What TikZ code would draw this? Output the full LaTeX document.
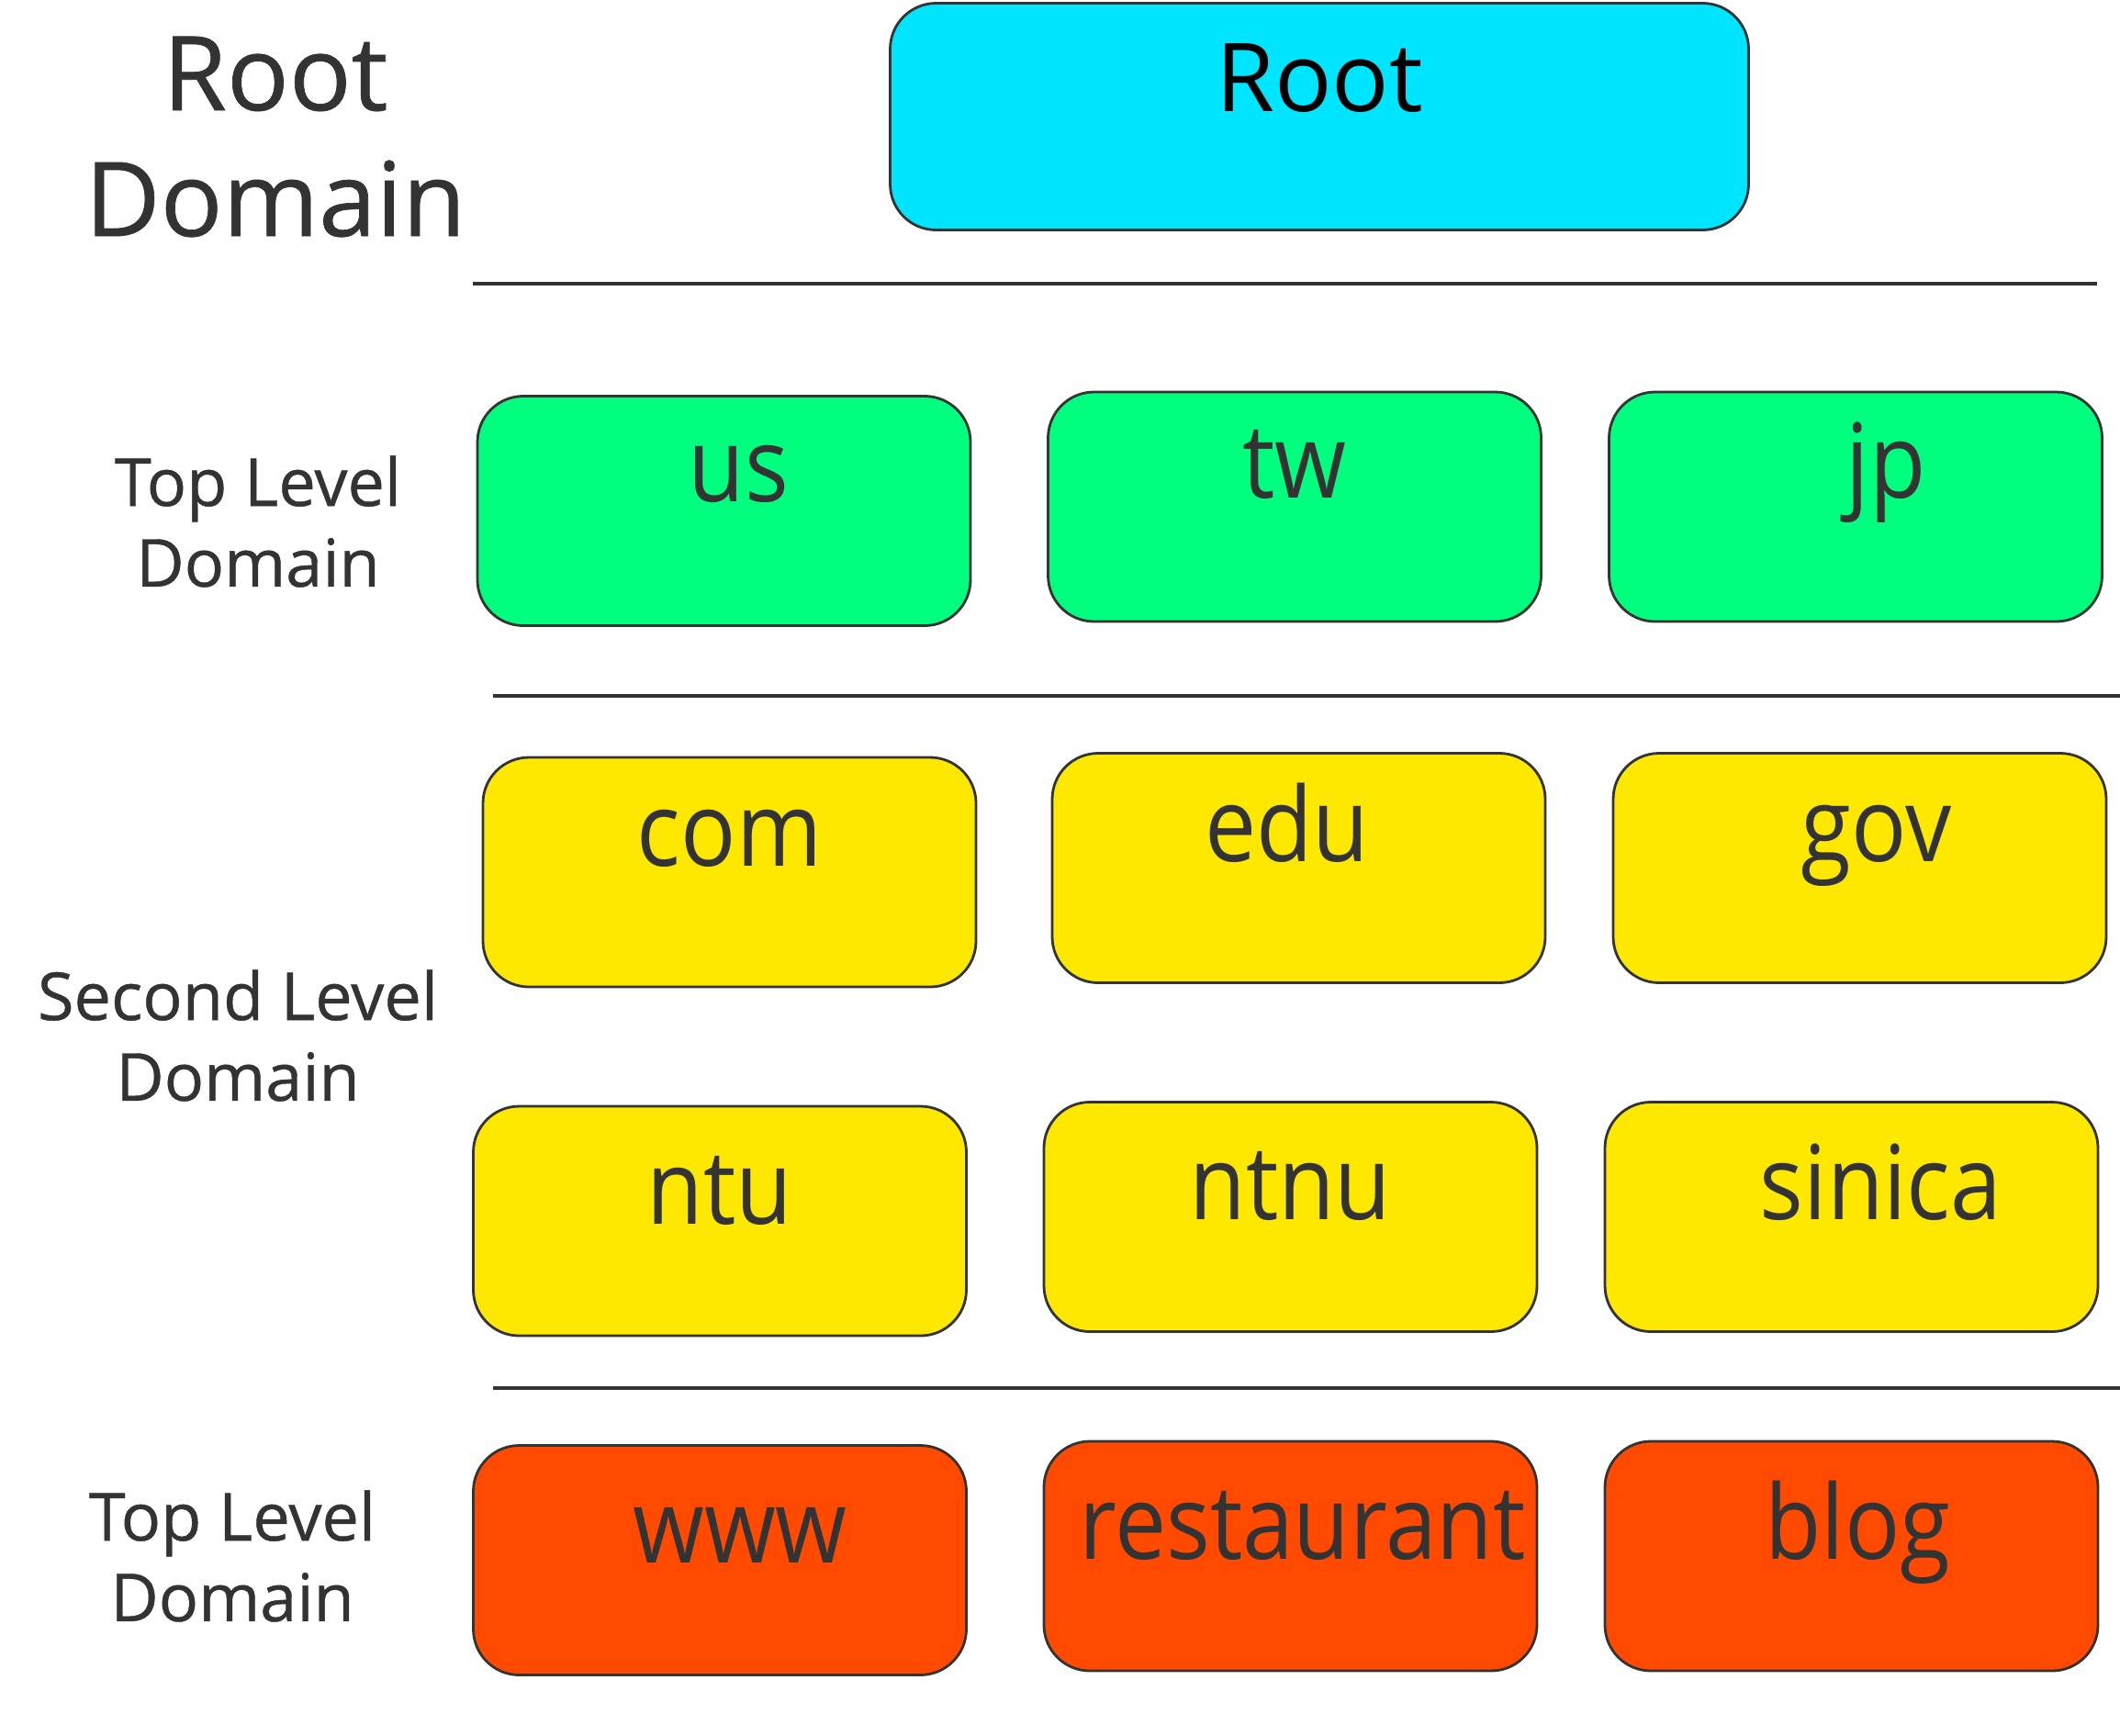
\documentclass[tikz,border=0pt]{standalone}
\usepackage{fontspec}
\setmainfont{Open Sans}
\newfontfamily\levelfont[FakeBold=0.6]{Open Sans}
\usepackage{graphicx}
\usepackage{tikz}
\usetikzlibrary{positioning}

\definecolor{inkgray}{HTML}{333333}
\definecolor{rootcyan}{HTML}{00E5FF}
\definecolor{tldgreen}{HTML}{00FF7F}
\definecolor{sldyellow}{HTML}{FFE800}
\definecolor{hostred}{HTML}{FF4A00}
% optional argument: twice the sideways shift of the label
\newcommand{\boxtxt}[2][0cm]{\hspace*{#1}\scalebox{0.89}[1]{#2}}

\begin{document}
\begin{tikzpicture}[
  level/.style = {align=center, text=inkgray, font=\levelfont\fontsize{20.5}{25}\selectfont},
  dombox/.style = {draw=inkgray, line width=0.8pt, rounded corners=0.5cm, inner sep=0pt,
                   minimum width=5.37cm, minimum height=2.5cm, text height=1.18cm, text depth=1.32cm,
                   text=inkgray, font=\fontsize{32}{36}\selectfont},
  lower/.style = {text height=1.28cm, text depth=1.22cm},
  sep/.style = {draw=inkgray, line width=1.1pt}]
\useasboundingbox (0,0) rectangle (23.09,-18.90);

% level names on the left
\node[level, font=\levelfont\fontsize{32}{39}\selectfont] (rootname) at (3.00,-1.49) {Root\\Domain};
\node[level] (topname) at (2.81,-5.68) {Top Level\\Domain};
\node[level] (secondname) at (2.59,-11.28) {Second Level\\Domain};
\node[level] (hostname) at (2.53,-16.95) {Top Level\\Domain};

% root
\node[dombox, fill=rootcyan, minimum width=9.35cm, minimum height=2.47cm, text height=1.18cm,
      text depth=1.29cm, text=black, font=\fontsize{29.5}{34}\selectfont] (root) at (14.37,-1.27) {Root};

% separators
\draw[sep] (5.15,-3.09) -- (22.84,-3.09);
\draw[sep] (5.37,-7.58) -- (23.09,-7.58);
\draw[sep] (5.37,-15.12) -- (23.09,-15.12);

% top level
\node[dombox, fill=tldgreen, text height=1.15cm, text depth=1.35cm] (us) at (7.885,-5.565) {\boxtxt[0.32cm]{us}};
\node[dombox, fill=tldgreen, text height=1.15cm, text depth=1.35cm] (tw) at (14.10,-5.52) {\boxtxt{tw}};
\node[dombox, fill=tldgreen, text height=1.15cm, text depth=1.35cm] (jp) at (20.21,-5.52) {\boxtxt[0.66cm]{jp}};

% second level
\node[dombox, fill=sldyellow] (com) at (7.945,-9.50) {\boxtxt{com}};
\node[dombox, fill=sldyellow] (edu) at (14.145,-9.455) {\boxtxt[-0.26cm]{edu}};
\node[dombox, fill=sldyellow] (gov) at (20.255,-9.455) {\boxtxt[0.36cm]{gov}};
\node[dombox, fill=sldyellow, lower] (ntu) at (7.84,-13.30) {\boxtxt{ntu}};
\node[dombox, fill=sldyellow, lower] (ntnu) at (14.055,-13.255) {\boxtxt{ntnu}};
\node[dombox, fill=sldyellow, lower] (sinica) at (20.165,-13.255) {\boxtxt[0.64cm]{sinica}};

% hosts
\node[dombox, fill=hostred, lower] (www) at (7.84,-16.995) {\boxtxt[0.44cm]{www}};
\node[dombox, fill=hostred, lower] (restaurant) at (14.055,-16.95) {\boxtxt[0.26cm]{restaurant}};
\node[dombox, fill=hostred, lower] (blog) at (20.165,-16.95) {\boxtxt[0.14cm]{blog}};
\end{tikzpicture}
\end{document}
